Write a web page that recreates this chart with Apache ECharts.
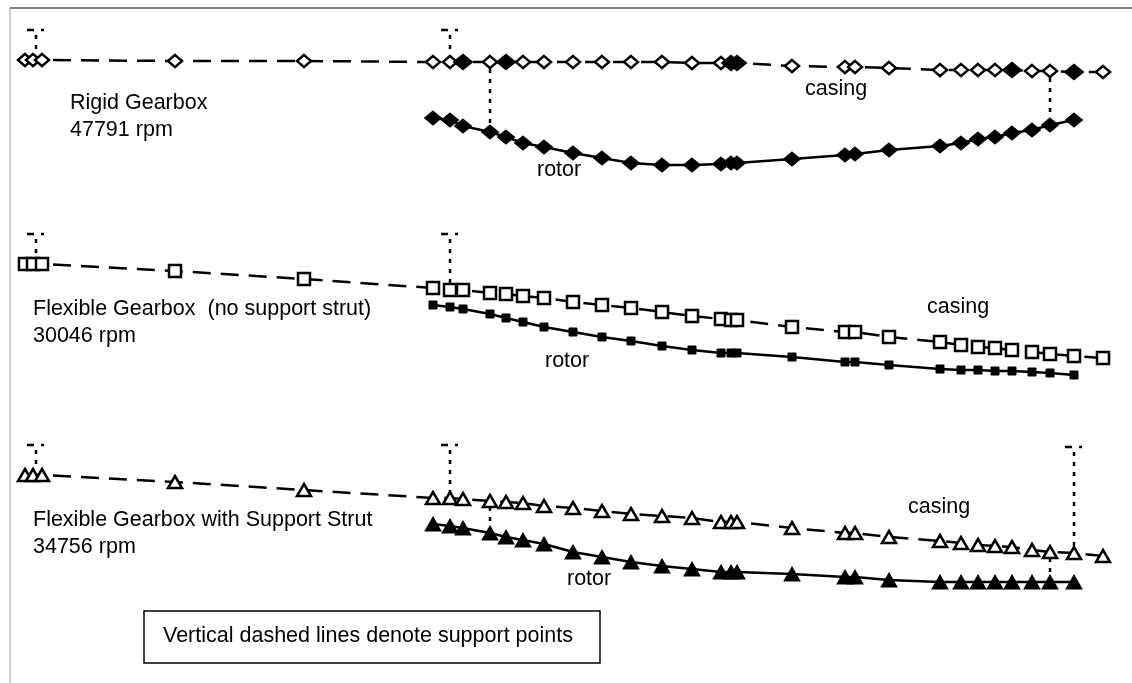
<!DOCTYPE html>
<html>
<head>
<meta charset="utf-8">
<script src="https://cdn.jsdelivr.net/npm/echarts@6/dist/echarts.min.js"></script>
<style>
html,body{margin:0;padding:0;background:#fff;}
#chart{width:1132px;height:683px;}
</style>
</head>
<body>
<div id="chart"></div>
<script>
// Axial stations (arbitrary length units) of casing and rotor nodes
const casingStations = [0, 0.8, 1.7, 15.0, 27.9, 40.8, 42.5, 43.8, 46.5, 48.1, 49.8, 51.9, 54.8, 57.7, 60.6, 63.7, 66.7, 69.6, 70.6, 71.2, 76.7, 82.0, 83.0, 86.4, 91.5, 93.6, 95.3, 97.0, 98.7, 100.7, 102.5, 104.9, 107.8];
const rotorStations = [40.8, 42.5, 43.8, 46.5, 48.1, 49.8, 51.9, 54.8, 57.7, 60.6, 63.7, 66.7, 69.6, 70.6, 71.2, 76.7, 82.0, 83.0, 86.4, 91.5, 93.6, 95.3, 97.0, 98.7, 100.7, 102.5, 104.9];

// Mode shape deflections (normalised) - Rigid Gearbox 47791 rpm
const rigidCasing = [0, 0, 0, -0.01, -0.01, -0.02, -0.02, -0.02, -0.02, -0.02, -0.02, -0.02, -0.02, -0.02, -0.02, -0.02, -0.03, -0.03, -0.03, -0.03, -0.06, -0.07, -0.07, -0.08, -0.10, -0.10, -0.10, -0.10, -0.10, -0.11, -0.11, -0.12, -0.12];
const rigidRotor = [-0.58, -0.60, -0.66, -0.72, -0.77, -0.83, -0.87, -0.93, -0.98, -1.03, -1.05, -1.05, -1.04, -1.03, -1.03, -0.99, -0.95, -0.94, -0.90, -0.86, -0.83, -0.79, -0.77, -0.73, -0.70, -0.65, -0.60];
const rigidCasingFilledStations = [43.8, 48.1, 70.6, 71.2, 98.7, 104.9];

// Flexible Gearbox (no support strut) 30046 rpm
const flexCasing = [0, 0, 0, -0.07, -0.15, -0.24, -0.26, -0.26, -0.29, -0.30, -0.32, -0.34, -0.38, -0.41, -0.44, -0.48, -0.52, -0.55, -0.56, -0.56, -0.63, -0.68, -0.68, -0.73, -0.78, -0.81, -0.83, -0.84, -0.86, -0.88, -0.90, -0.92, -0.94];
const flexRotor = [-0.41, -0.43, -0.45, -0.50, -0.54, -0.58, -0.63, -0.68, -0.73, -0.77, -0.82, -0.86, -0.89, -0.89, -0.89, -0.93, -0.98, -0.98, -1.01, -1.05, -1.06, -1.06, -1.07, -1.07, -1.08, -1.09, -1.11];

// Flexible Gearbox with Support Strut 34756 rpm
const strutCasing = [0, 0, 0, -0.07, -0.15, -0.23, -0.23, -0.24, -0.26, -0.27, -0.28, -0.31, -0.33, -0.36, -0.39, -0.41, -0.43, -0.47, -0.47, -0.47, -0.53, -0.58, -0.58, -0.62, -0.66, -0.68, -0.70, -0.71, -0.72, -0.75, -0.77, -0.78, -0.81];
const strutRotor = [-0.49, -0.51, -0.53, -0.58, -0.62, -0.65, -0.69, -0.77, -0.82, -0.87, -0.91, -0.94, -0.97, -0.97, -0.97, -0.99, -1.02, -1.02, -1.05, -1.07, -1.07, -1.07, -1.07, -1.07, -1.07, -1.07, -1.07];

// Support points (vertical dashed lines): panel index, station, top, bottom, grounded (has cap)
const supportPanel   = [0, 0, 0, 0, 1, 1, 2, 2, 2, 2, 2];
const supportStation = [1.1, 42.5, 46.5, 102.5, 1.1, 42.5, 1.1, 42.5, 46.5, 104.9, 102.5];
const supportTop     = [0.30, 0.30, -0.09, -0.18, 0.30, 0.30, 0.30, 0.30, -0.32, 0.28, -0.83];
const supportBottom  = [0.05, 0.04, -0.64, -0.58, 0.05, -0.19, 0.06, -0.18, -0.52, -0.72, -1.01];
const supportGround  = [1, 1, 0, 0, 1, 1, 1, 1, 0, 1, 0];

// Annotation texts
const panelTitles = ['Rigid Gearbox', 'Flexible Gearbox  (no support strut)', 'Flexible Gearbox with Support Strut'];
const panelSpeeds = ['47791 rpm', '30046 rpm', '34756 rpm'];
const noteText = 'Vertical dashed lines denote support points';

const chart = echarts.init(document.getElementById('chart'), null, {renderer: 'canvas'});

const gridTops = [20, 224, 435];
const grids = gridTops.map(t => ({left: 25, right: 29, top: t, height: 180, containLabel: false}));
const xAxes = gridTops.map((t, i) => ({type: 'value', gridIndex: i, min: 0, max: 107.8, show: false}));
const yAxes = gridTops.map((t, i) => ({type: 'value', gridIndex: i, min: -1.4, max: 0.4, show: false}));

const panelDefs = [
  {casing: rigidCasing, rotor: rigidRotor, cSym: 'diamond', cSize: [14, 12], rSym: 'diamond', rSize: [17, 14]},
  {casing: flexCasing, rotor: flexRotor, cSym: 'rect', cSize: [12, 12], rSym: 'rect', rSize: [8, 8]},
  {casing: strutCasing, rotor: strutRotor, cSym: 'triangle', cSize: [14, 12], rSym: 'triangle', rSize: [16, 14]}
];

const series = [];
// supports first (drawn underneath)
supportStation.forEach((s, k) => {
  const p = supportPanel[k];
  const top = supportTop[k];
  series.push({
    type: 'line', xAxisIndex: p, yAxisIndex: p, symbol: 'none', silent: true, z: 1,
    data: [[s, supportGround[k] ? top - 0.05 : top], [s, supportBottom[k]]],
    lineStyle: {color: '#000', width: 2.5, type: [4, 6]}
  });
  if (supportGround[k]) {
    series.push({
      type: 'line', xAxisIndex: p, yAxisIndex: p, symbol: 'none', silent: true, z: 1,
      data: [[s - 0.9, top], [s + 0.9, top]],
      lineStyle: {color: '#000', width: 2.5, type: [7, 7, 3, 20]}
    });
  }
});

panelDefs.forEach((pd, i) => {
  series.push({
    type: 'line', xAxisIndex: i, yAxisIndex: i, z: 3,
    symbol: pd.cSym, symbolSize: pd.cSize, showSymbol: true,
    data: casingStations.map((x, k) => {
      if (i === 0 && rigidCasingFilledStations.indexOf(x) >= 0) {
        return {value: [x, pd.casing[k]], itemStyle: {color: '#000'}, symbolSize: [17, 14]};
      }
      return [x, pd.casing[k]];
    }),
    itemStyle: {color: '#fff', borderColor: '#000', borderWidth: 2.5},
    lineStyle: {color: '#000', width: 2.5, type: [18, 10]}
  });
  series.push({
    type: 'line', xAxisIndex: i, yAxisIndex: i, z: 4,
    symbol: pd.rSym, symbolSize: pd.rSize, showSymbol: true,
    data: rotorStations.map((x, k) => [x, pd.rotor[k]]),
    itemStyle: {color: '#000', borderColor: '#000', borderWidth: 1},
    lineStyle: {color: '#000', width: 2.5, type: 'solid'}
  });
});

const font = '"Liberation Sans", Arial, sans-serif';
function txt(t, x, y) {
  return {type: 'text', left: x, top: y - 12, silent: true,
    style: {text: t, fill: '#000', font: '21.5px ' + font}};
}

const graphics = [
  {type: 'line', silent: true, shape: {x1: 10, y1: 8, x2: 1132, y2: 8}, style: {stroke: '#555', lineWidth: 1.5}},
  {type: 'line', silent: true, shape: {x1: 10, y1: 8, x2: 10, y2: 683}, style: {stroke: '#999', lineWidth: 1}},
  txt(panelTitles[0], 70, 104), txt(panelSpeeds[0], 70, 131),
  txt('casing', 805, 90), txt('rotor', 537, 171),
  txt(panelTitles[1], 33, 310), txt(panelSpeeds[1], 33, 337),
  txt('casing', 927, 308), txt('rotor', 545, 362),
  txt(panelTitles[2], 33, 521), txt(panelSpeeds[2], 33, 548),
  txt('casing', 908, 508), txt('rotor', 567, 580),
  {type: 'rect', silent: true, shape: {x: 144, y: 611, width: 456, height: 52},
    style: {fill: '#fff', stroke: '#000', lineWidth: 1.5}, z: 10},
  {type: 'text', silent: true, left: 163, top: 625, z: 11,
    style: {text: noteText, fill: '#000', font: '21.5px ' + font}}
];

chart.setOption({
  animation: false,
  backgroundColor: '#fff',
  grid: grids,
  xAxis: xAxes,
  yAxis: yAxes,
  series: series,
  graphic: graphics
});
</script>
</body>
</html>
